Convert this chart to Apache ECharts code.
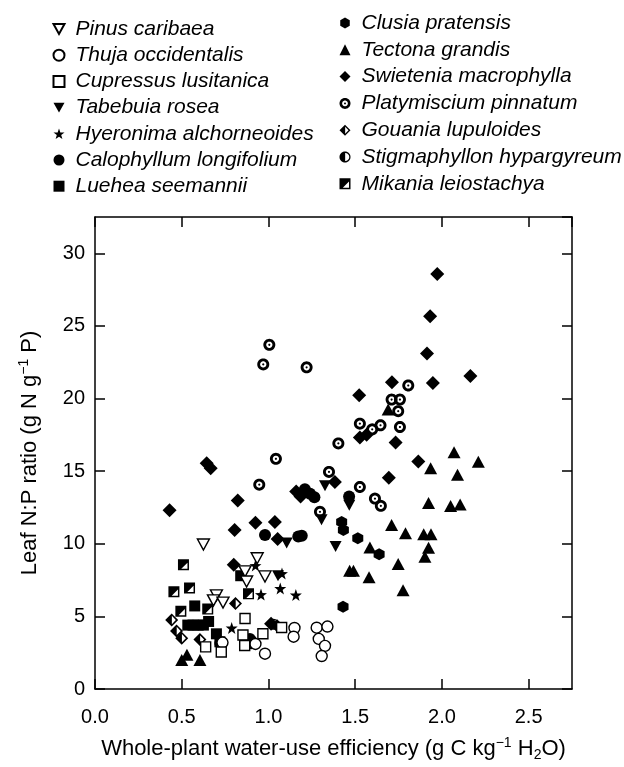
<!DOCTYPE html>
<html>
<head>
<meta charset="utf-8">
<script src="https://cdn.jsdelivr.net/npm/echarts@6.0.0/dist/echarts.min.js"></script>
<style>
html, body { margin: 0; padding: 0; background: #fff; }
#main { width: 624px; height: 767px; }
</style>
</head>
<body>
<div id="main"></div>
<script>
// data: [WUE, leaf N:P]
var pinus = [[0.625, 9.95], [0.935, 9.0], [0.865, 8.1], [0.874, 7.4], [0.98, 7.75], [0.70, 6.45], [0.683, 6.1], [0.738, 5.95]];
var thuja = [[0.735, 3.2], [0.925, 3.1], [0.98, 2.43], [1.15, 4.2], [1.145, 3.6], [1.278, 4.22], [1.34, 4.3], [1.29, 3.45], [1.326, 2.97], [1.307, 2.27]];
var cupressus = [[0.865, 4.85], [0.853, 3.72], [0.863, 3.0], [0.968, 3.8], [1.076, 4.23], [0.638, 2.9], [0.728, 2.55]];
var tabebuia = [[1.326, 14.0], [1.466, 12.65], [1.306, 11.65], [1.105, 10.05], [1.387, 9.82], [1.055, 7.8]];
var hyeronima = [[0.925, 8.5], [1.078, 7.95], [1.068, 6.92], [1.158, 6.47], [0.957, 6.5], [0.788, 4.2]];
var calophyllum = [[0.98, 10.6], [1.172, 10.5], [1.192, 10.55], [1.21, 13.75], [1.24, 13.45], [1.265, 13.2], [1.465, 13.25], [0.893, 3.45], [0.90, 3.15]];
var luehea = [[0.84, 7.8], [0.575, 5.72], [0.535, 4.4], [0.565, 4.4], [0.595, 4.4], [0.625, 4.4], [0.655, 4.65], [0.70, 3.8], [0.72, 3.25]];
var clusia = [[1.422, 11.5], [1.432, 10.95], [1.515, 10.38], [1.638, 9.27], [1.43, 5.67]];
var tectona = [[2.07, 16.3], [2.21, 15.65], [1.935, 15.2], [2.09, 14.75], [1.923, 12.8], [2.05, 12.6], [2.105, 12.7],
  [1.71, 11.3], [1.79, 10.72], [1.895, 10.65], [1.937, 10.65], [1.585, 9.75], [1.923, 9.72], [1.902, 9.1],
  [1.748, 8.6], [1.468, 8.15], [1.49, 8.15], [1.58, 7.7], [1.776, 6.8], [1.69, 19.25], [0.50, 2.0], [0.53, 2.35], [0.605, 2.0]];
var swietenia = [[1.973, 28.57], [1.932, 25.67], [1.914, 23.1], [2.164, 21.55], [1.948, 21.07], [1.712, 21.12], [1.523, 20.22],
  [1.527, 17.32], [1.566, 17.5], [1.733, 16.97], [1.864, 15.66], [1.694, 14.54], [1.383, 14.25], [0.644, 15.55], [0.667, 15.2],
  [0.43, 12.31], [0.823, 12.98], [0.805, 10.95], [0.925, 11.45], [1.037, 11.5], [1.053, 10.33], [1.16, 13.6], [1.185, 13.25],
  [0.80, 8.55], [1.015, 4.5]];
var platymiscium = [[0.97, 22.35], [1.005, 23.7], [1.22, 22.15], [1.043, 15.85], [0.947, 14.07], [1.349, 14.95], [1.403, 16.91],
  [1.297, 12.2], [1.527, 18.27], [1.598, 17.88], [1.646, 18.16], [1.758, 18.04], [1.71, 19.93], [1.758, 19.93], [1.748, 19.13],
  [1.806, 20.9], [1.527, 13.91], [1.614, 13.11], [1.648, 12.61]];
var gouania = [[0.442, 4.75], [0.47, 4.0], [0.50, 3.5], [0.605, 3.4], [0.81, 5.88], [1.05, 4.35]];
var stigmaphyllon = [[0.72, 3.15], [0.905, 3.3], [1.03, 4.45]];
var mikania = [[0.51, 8.55], [0.455, 6.7], [0.545, 6.95], [0.495, 5.35], [0.65, 5.5], [0.885, 6.55]];

var legendLeft = ['Pinus caribaea', 'Thuja occidentalis', 'Cupressus lusitanica', 'Tabebuia rosea', 'Hyeronima alchorneoides', 'Calophyllum longifolium', 'Luehea seemannii'];
var legendRight = ['Clusia pratensis', 'Tectona grandis', 'Swietenia macrophylla', 'Platymiscium pinnatum', 'Gouania lupuloides', 'Stigmaphyllon hypargyreum', 'Mikania leiostachya'];

var fam = 'Liberation Sans, Arial, sans-serif';

// little helpers to build path:// symbols (holes go the other way round)
function circlePts(cx, cy, r, n, rev) {
  var pts = [];
  for (var i = 0; i < n; i++) {
    var a = (rev ? -1 : 1) * i * 2 * Math.PI / n;
    pts.push([cx + r * Math.cos(a), cy + r * Math.sin(a)]);
  }
  return pts;
}
function toPath(pts) {
  return 'M ' + pts.map(function (p) { return p[0].toFixed(2) + ' ' + p[1].toFixed(2); }).join(' L ') + ' Z ';
}
var platySym = 'path://' + toPath(circlePts(10, 10, 10, 36)) + toPath(circlePts(10, 10, 5.2, 36, true)) + toPath(circlePts(10, 10, 1.8, 12));
var starPts = [];
for (var k = 0; k < 10; k++) {
  var a = -Math.PI / 2 + k * Math.PI / 5, r = k % 2 ? 4 : 10;
  starPts.push([10 + r * Math.cos(a), 10 + r * Math.sin(a)]);
}
var starSym = 'path://' + toPath(starPts);
var hexPts = [];
for (var h = 0; h < 6; h++) {
  var b = -Math.PI / 2 + h * Math.PI / 3;
  hexPts.push([10 + 10 * Math.cos(b), 10 + 10 * Math.sin(b)]);
}
var hexSym = 'path://' + toPath(hexPts);
var gouaniaSym = 'path://' + toPath([[10, 0], [20, 10], [10, 20], [0, 10]]) + toPath([[10.3, 3.6], [10.3, 16.4], [16.4, 10]]);
var halfPts = [];
for (var s = 0; s <= 18; s++) {
  var c = Math.PI / 2 - s * Math.PI / 18;
  halfPts.push([10.3 + 7.4 * Math.cos(c), 10 + 7.4 * Math.sin(c)]);
}
var stigmaSym = 'path://' + toPath(circlePts(10, 10, 10, 36)) + toPath(halfPts);
var mikaniaSym = 'path://' + toPath([[0, 0], [20, 0], [20, 20], [0, 20]]) + toPath([[6, 17.3], [17.3, 17.3], [17.3, 6]]);
var triDown = 'path://M 0 0 L 20 0 L 10 18 Z';

var species = [
  { name: 'Swietenia macrophylla', data: swietenia, symbol: 'diamond', size: [14, 14] },
  { name: 'Tectona grandis', data: tectona, symbol: 'triangle', size: [13, 12] },
  { name: 'Platymiscium pinnatum', data: platymiscium, symbol: platySym, size: [12, 12] },
  { name: 'Clusia pratensis', data: clusia, symbol: hexSym, size: [11, 12] },
  { name: 'Calophyllum longifolium', data: calophyllum, symbol: 'circle', size: 12 },
  { name: 'Tabebuia rosea', data: tabebuia, symbol: triDown, size: [12, 11] },
  { name: 'Hyeronima alchorneoides', data: hyeronima, symbol: starSym, size: [12, 12] },
  { name: 'Luehea seemannii', data: luehea, symbol: 'rect', size: [11, 11] },
  { name: 'Mikania leiostachya', data: mikania, symbol: mikaniaSym, size: [11, 11] },
  { name: 'Gouania lupuloides', data: gouania, symbol: gouaniaSym, size: [13, 13] },
  { name: 'Stigmaphyllon hypargyreum', data: stigmaphyllon, symbol: stigmaSym, size: [11, 11] },
  { name: 'Pinus caribaea', data: pinus, symbol: triDown, size: [12, 11], open: true },
  { name: 'Thuja occidentalis', data: thuja, symbol: 'circle', size: 11, open: true },
  { name: 'Cupressus lusitanica', data: cupressus, symbol: 'rect', size: [10, 10], open: true }
];

var series = species.map(function (sp) {
  return {
    name: sp.name,
    type: 'scatter',
    data: sp.data,
    symbol: sp.symbol,
    symbolSize: sp.size,
    itemStyle: sp.open ? { color: '#fff', borderColor: '#000', borderWidth: 1.4, opacity: 1 } : { color: '#000', opacity: 1 },
    emphasis: { disabled: true }
  };
});

function legendBox(names, left, top, gap) {
  return {
    data: names,
    orient: 'vertical',
    left: left,
    top: top,
    itemWidth: 11,
    itemHeight: 11,
    itemGap: gap,
    selectedMode: false,
    textStyle: { fontFamily: fam, fontSize: 21, fontStyle: 'italic', color: '#000', lineHeight: 21, padding: [0, 0, 0, 6] }
  };
}

var axisLine = { show: true, onZero: false, lineStyle: { color: '#000', width: 1.5 } };
var tick = { show: true, inside: true, length: 10, lineStyle: { color: '#000', width: 1.5 } };

var myChart = echarts.init(document.getElementById('main'));
var option = {
  backgroundColor: '#fff',
  animation: false,
  legend: [legendBox(legendLeft, 47.5, 13.5, 5.2), legendBox(legendRight, 334.5, 7.5, 5.8)],
  grid: { left: 95, right: 52, top: 217, bottom: 73 },
  xAxis: [
    {
      type: 'value', min: 0, max: 2.75, interval: 0.5,
      axisLine: axisLine, axisTick: tick, splitLine: { show: false },
      axisLabel: { color: '#000', fontFamily: fam, fontSize: 20, margin: 18, showMaxLabel: false,
        formatter: function (v) { return v.toFixed(1); } },
      name: '{t|Whole-plant water-use efficiency (g C kg}{sup|\u22121}{t| H}{sub|2}{t|O)}',
      nameLocation: 'middle', nameGap: 47,
      nameTextStyle: {
        rich: {
          t: { fontFamily: fam, fontSize: 22, color: '#000', lineHeight: 26 },
          sup: { fontFamily: fam, fontSize: 14, color: '#000', verticalAlign: 'top' },
          sub: { fontFamily: fam, fontSize: 14, color: '#000', verticalAlign: 'bottom' }
        }
      }
    },
    {
      type: 'value', position: 'top', min: 0, max: 2.75, interval: 0.5,
      axisLine: axisLine, axisTick: tick, splitLine: { show: false }, axisLabel: { show: false }
    }
  ],
  yAxis: [
    {
      type: 'value', min: 0, max: 32.5, interval: 5,
      axisLine: axisLine, axisTick: tick, splitLine: { show: false },
      axisLabel: { color: '#000', fontFamily: fam, fontSize: 20, margin: 10, showMaxLabel: false },
      name: '{t|Leaf N:P ratio (g N g}{sup|\u22121}{t| P)}',
      nameLocation: 'middle', nameGap: 52,
      nameTextStyle: {
        rich: {
          t: { fontFamily: fam, fontSize: 22, color: '#000', lineHeight: 26 },
          sup: { fontFamily: fam, fontSize: 14, color: '#000', verticalAlign: 'top' }
        }
      }
    },
    {
      type: 'value', position: 'right', min: 0, max: 32.5, interval: 5,
      axisLine: axisLine, axisTick: tick, splitLine: { show: false }, axisLabel: { show: false }
    }
  ],
  series: series
};
myChart.setOption(option);
</script>
</body>
</html>
